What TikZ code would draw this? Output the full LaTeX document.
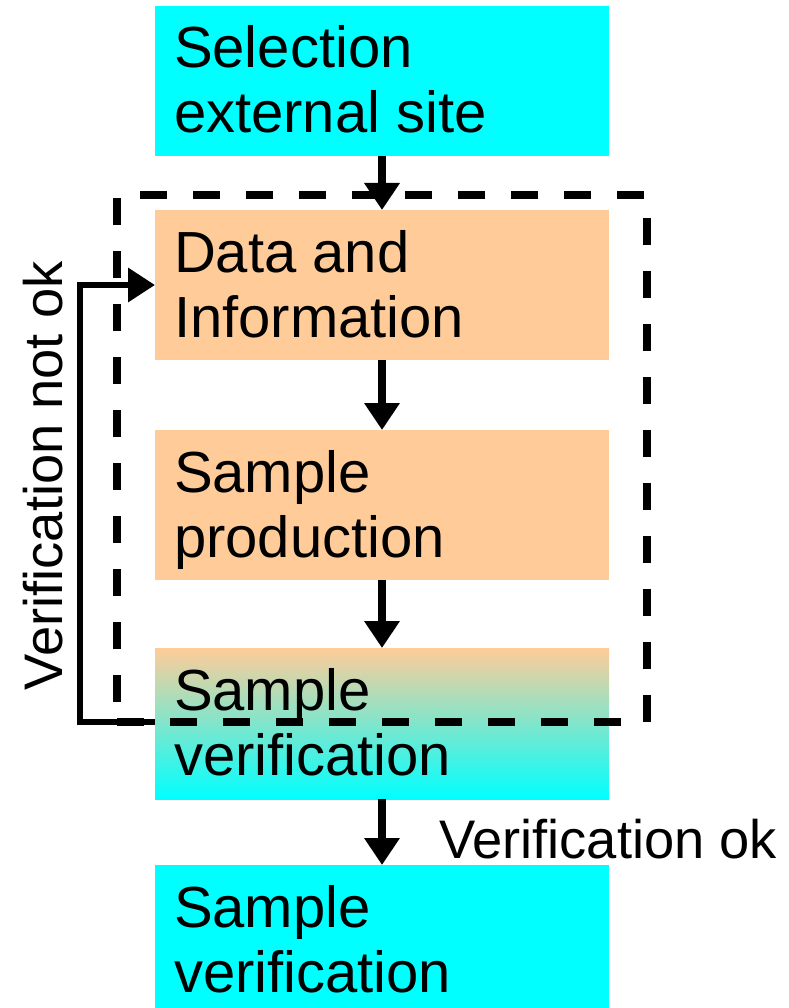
\documentclass[tikz,border=0pt]{standalone}
\usepackage{fontspec}
\setmainfont{Liberation Sans}
\usetikzlibrary{arrows.meta}
\definecolor{boxcyan}{HTML}{00FFFF}
\definecolor{boxorange}{HTML}{FFCC99}
\begin{document}
\begin{tikzpicture}[x=1pt,y=-1pt,
  stepbox/.style={rectangle, inner sep=0pt, outer sep=0pt, minimum width=454pt, minimum height=150pt, anchor=north west},
  boxtext/.style={anchor=north west, inner sep=0pt, outer sep=0pt, align=left, font=\fontsize{58}{65}\selectfont},
  flow/.style={line width=8pt, -{Triangle[width=34pt,length=27pt]}},
  back/.style={line width=6.5pt, -{Triangle[width=33pt,length=27pt]}},
  group/.style={draw, line width=8.5pt, dash pattern=on 27pt off 26pt, rectangle, inner sep=0pt, outer sep=0pt,
                minimum width=530pt, minimum height=527pt, anchor=north west},
  lbl/.style={inner sep=0pt, outer sep=0pt, font=\fontsize{54.3}{60}\selectfont}]
\useasboundingbox (0,0) rectangle (788,1008);
\fill[white] (0,0) rectangle (788,1008);
% boxes
\node[stepbox, fill=boxcyan] (b1) at (155,6) {};
\node[stepbox, fill=boxorange] (b2) at (155,210) {};
\node[stepbox, fill=boxorange] (b3) at (155,430) {};
\node[stepbox, top color=boxorange, bottom color=boxcyan, minimum height=151pt] (b4) at (155,648) {};
\node[stepbox, fill=boxcyan, minimum height=143pt] (b5) at (155,865) {};
% box texts
\node[boxtext] (t1) at ([xshift=19pt]b1.north west) {\rule{0pt}{62pt}Selection\\external site};
\node[boxtext] (t2) at ([xshift=19pt]b2.north west) {\rule{0pt}{62pt}Data and\\Information};
\node[boxtext] (t3) at ([xshift=19pt]b3.north west) {\rule{0pt}{62pt}Sample\\production};
\node[boxtext] (t4) at ([xshift=19pt]b4.north west) {\rule{0pt}{62pt}Sample\\verification};
\node[boxtext] (t5) at ([xshift=19pt]b5.north west) {\rule{0pt}{62pt}Sample\\verification};
% dashed group
\node[group] (grp) at (117,195) {};
% feedback
\coordinate (fb) at (80,285);
\draw[back] (b4.west |- grp.south) -| (fb) -- (b2.west);
% arrows
\draw[flow] (b1.south) -- (b2.north);
\draw[flow] (b2.south) -- (b3.north);
\draw[flow] (b3.south) -- (b4.north);
\draw[flow] (b4.south) -- (b5.north);
% labels
\node[lbl, anchor=base west] (okl) at (439,858) {Verification ok};
\node[lbl, anchor=base west, rotate=90] (nokl) at (62,690) {Verification not ok};
\end{tikzpicture}
\end{document}
